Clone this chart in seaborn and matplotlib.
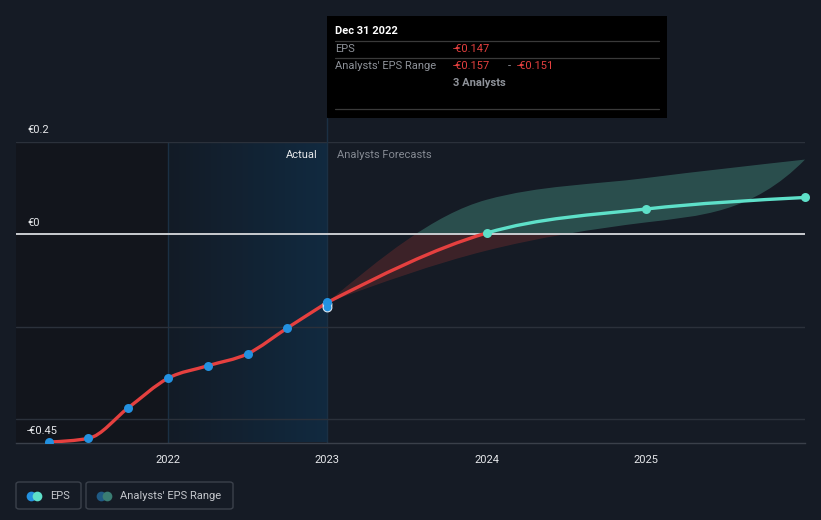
import numpy as np
import pandas as pd
import matplotlib
matplotlib.use("Agg")
import matplotlib.pyplot as plt
import seaborn as sns
from matplotlib.path import Path
from matplotlib.patches import PathPatch, Rectangle, FancyBboxPatch
from matplotlib.colors import LinearSegmentedColormap
from matplotlib.lines import Line2D

# ---------------- data ----------------
actual_x = [2021.25, 2021.5, 2021.75, 2022.0, 2022.25, 2022.5, 2022.75, 2023.0]
actual_eps = [-0.449, -0.441, -0.375, -0.311, -0.284, -0.258, -0.202, -0.147]

fc_x = [2023.0, 2024.0, 2025.0, 2026.0]
fc_eps = [-0.147, 0.003, 0.055, 0.080]
fc_high = [-0.147, 0.075, 0.122, 0.162]
fc_low = [-0.147, -0.035, 0.026, 0.050]

range_x = [2023.0, 2023.0]
range_vals = [-0.151, -0.157]

year_ticks = [2022, 2023, 2024, 2025]
year_labels = ["2022", "2023", "2024", "2025"]
y_ticks = [0.2, 0.0, -0.45]
y_labels = ["€0.2", "€0", "-€0.45"]
grid_vals = [0.2, -0.2, -0.4]

# ---------------- style ----------------
BG = "#151b25"
DARK = "#12151c"
RED = "#e5403f"
BLUE = "#2391e0"
TEAL = "#5ee0c9"
BAND_T = "#2c5150"
BAND_R = "#3f2329"

sns.set_style("dark")
plt.rcParams["font.family"] = ["Roboto", "DejaVu Sans"]

W, H = 821, 520
fig = plt.figure(figsize=(W / 100, H / 100), dpi=100, facecolor=BG)
x0, x1 = 16, 805
ytop, ybot = 142, 442.5
ax = fig.add_axes([x0 / W, 1 - ybot / H, (x1 - x0) / W, (ybot - ytop) / H])
ax.set_facecolor(BG)
XMIN, XMAX = 2021.045, 2026.0
YMIN, YMAX = -0.45, 0.2


def tangents(x, y):
    """Monotone-X tangents (as in d3.curveMonotoneX)."""
    x = np.asarray(x, float); y = np.asarray(y, float)
    n = len(x)
    m = np.zeros(n)
    for i in range(1, n - 1):
        h0 = x[i] - x[i - 1]; h1 = x[i + 1] - x[i]
        s0 = (y[i] - y[i - 1]) / h0; s1 = (y[i + 1] - y[i]) / h1
        p = (s0 * h1 + s1 * h0) / (h0 + h1)
        m[i] = (np.sign(s0) + np.sign(s1)) * min(abs(s0), abs(s1), 0.5 * abs(p))
    if n > 2:
        m[0] = (3 * (y[1] - y[0]) / (x[1] - x[0]) - m[1]) / 2
        m[-1] = (3 * (y[-1] - y[-2]) / (x[-1] - x[-2]) - m[-2]) / 2
    else:
        m[:] = (y[1] - y[0]) / (x[1] - x[0])
    return m


def bez_segments(x, y, m, i0, i1):
    verts = [(x[i0], y[i0])]
    codes = [Path.MOVETO]
    for i in range(i0, i1):
        h = x[i + 1] - x[i]
        verts += [(x[i] + h / 3, y[i] + m[i] * h / 3),
                  (x[i + 1] - h / 3, y[i + 1] - m[i + 1] * h / 3),
                  (x[i + 1], y[i + 1])]
        codes += [Path.CURVE4] * 3
    return verts, codes


# background regions
ax.axvspan(XMIN, 2022, color=DARK, zorder=0, lw=0)
grad = np.linspace(0, 1, 512).reshape(1, -1)
cmap = LinearSegmentedColormap.from_list("hl", ["#131b26", "#112a40"], N=512)
ax.imshow(grad, extent=[2022, 2023, YMIN, YMAX], aspect="auto", cmap=cmap,
          zorder=0.5, interpolation="nearest")
for xv in (2022, 2023):
    ax.axvline(xv, color="#1b3044", lw=1, zorder=1)

# grid
for g in grid_vals:
    ax.axhline(g, color="#2b313b", lw=1, zorder=1)
ax.axhline(0, color="#c9ccd0", lw=1.4, zorder=3)

# band
mh = tangents(fc_x, fc_high)
ml = tangents(fc_x, fc_low)
vu, cu = bez_segments(fc_x, fc_high, mh, 0, len(fc_x) - 1)
xr = fc_x[::-1]; lr = fc_low[::-1]
vl, cl = bez_segments(xr, lr, ml[::-1], 0, len(xr) - 1)
verts = vu + vl[1:] + [vu[0]]
codes = cu + cl[1:] + [Path.CLOSEPOLY]
band_path = Path(verts, codes)
for col, (ry0, ry1) in ((BAND_T, (0, YMAX + 1)), (BAND_R, (YMIN - 1, 0))):
    p = PathPatch(band_path, facecolor=col, edgecolor="none", zorder=2, alpha=0.95)
    ax.add_patch(p)
    clip = Rectangle((XMIN - 1, ry0), XMAX - XMIN + 2, ry1 - ry0,
                     transform=ax.transData, facecolor="none", edgecolor="none")
    ax.add_patch(clip)
    p.set_clip_path(clip)

# actual line
ma = tangents(actual_x, actual_eps)
va, ca = bez_segments(actual_x, actual_eps, ma, 0, len(actual_x) - 1)
ax.add_patch(PathPatch(Path(va, ca), facecolor="none", edgecolor=RED, lw=2.4,
                       zorder=4, capstyle="round"))

# forecast line
mf = tangents(fc_x, fc_eps)
vr, cr = bez_segments(fc_x, fc_eps, mf, 0, 1)
ax.add_patch(PathPatch(Path(vr, cr), facecolor="none", edgecolor=RED, lw=2.4, zorder=4))
vt, ct = bez_segments(fc_x, fc_eps, mf, 1, len(fc_x) - 1)
ax.add_patch(PathPatch(Path(vt, ct), facecolor="none", edgecolor=TEAL, lw=2.4, zorder=4))

# markers
df_a = pd.DataFrame({"x": actual_x, "y": actual_eps})
df_r = pd.DataFrame({"x": range_x, "y": range_vals})
df_f = pd.DataFrame({"x": fc_x[1:], "y": fc_eps[1:]})
sns.scatterplot(data=df_r, x="x", y="y", ax=ax, color=BLUE, s=40, edgecolor="#d8e6f2",
                linewidth=0.8, zorder=5, legend=False)
sns.scatterplot(data=df_a, x="x", y="y", ax=ax, color=BLUE, s=42, edgecolor=BLUE,
                linewidth=0, zorder=6, legend=False)
sns.scatterplot(data=df_f, x="x", y="y", ax=ax, color=TEAL, s=42, edgecolor=TEAL,
                linewidth=0, zorder=6, legend=False, clip_on=False)

ax.set_xlim(XMIN, XMAX)
ax.set_ylim(YMIN, YMAX)
ax.set_xlabel(""); ax.set_ylabel("")
ax.set_xticks(year_ticks)
ax.set_xticklabels(year_labels, color="#e6e8eb", fontsize=8)
ax.tick_params(axis="x", length=4, color="#3a404a", pad=5)
ax.set_yticks([])
for s in ("top", "right", "left"):
    ax.spines[s].set_visible(False)
ax.spines["bottom"].set_color("#3a404a")
ax.spines["bottom"].set_linewidth(1)
ax.grid(False)

# y labels above gridlines
for v, lab in zip(y_ticks, y_labels):
    ax.annotate(lab, xy=(0, v), xycoords=("axes fraction", "data"),
                xytext=(8, 5), textcoords="offset points", color="#e6e8eb",
                fontsize=8, va="bottom", ha="left")

# Actual / Forecast labels
ax.annotate("Actual", xy=(2023, YMAX), xytext=(-7, -5.5), textcoords="offset points",
            ha="right", va="top", color="#e6e8eb", fontsize=8)
ax.annotate("Analysts Forecasts", xy=(2023, YMAX), xytext=(7, -5.5), textcoords="offset points",
            ha="left", va="top", color="#858a93", fontsize=8)

# vertical line at 2023 up to tooltip
fx = (x0 + (2023 - XMIN) / (XMAX - XMIN) * (x1 - x0)) / W
fig.add_artist(Line2D([fx, fx], [1 - 142 / H, 1 - 118 / H], color="#1b3044", lw=1))

# tooltip
def fy(py):
    return 1 - py / H

fig.add_artist(Rectangle((327 / W, fy(118)), 340 / W, 102 / H, facecolor="black",
                         edgecolor="none", transform=fig.transFigure))
fig.text(335 / W, fy(31), "Dec 31 2022", color="white", fontsize=8, fontweight="bold", va="center")
for py in (41, 58, 109):
    fig.add_artist(Line2D([335 / W, 659 / W], [fy(py), fy(py)], color="#3a3a3a", lw=0.9))
fig.text(335 / W, fy(49), "EPS", color="#8e9299", fontsize=8, va="center")
fig.text(453 / W, fy(49), "-€0.147", color=RED, fontsize=8, va="center")
fig.text(335 / W, fy(66), "Analysts' EPS Range", color="#8e9299", fontsize=8, va="center")
fig.text(453 / W, fy(66), "-€0.157", color=RED, fontsize=8, va="center")
fig.text(508 / W, fy(66), "-", color="#8e9299", fontsize=8, va="center")
fig.text(517 / W, fy(66), "-€0.151", color=RED, fontsize=8, va="center")
fig.text(453 / W, fy(83), "3 Analysts", color="#8e9299", fontsize=8, fontweight="bold", va="center")

# legend boxes
def legbox(xl, xr, c1, c2, label):
    fig.add_artist(FancyBboxPatch((xl / W, fy(509)), (xr - xl) / W, 27 / H,
                                  boxstyle="round,pad=0,rounding_size=0.004",
                                  facecolor="none", edgecolor="#3b414b", lw=1,
                                  transform=fig.transFigure))
    fig.add_artist(Line2D([(xl + 15) / W], [fy(496)], marker="o", ms=7, color=c1, mec="none", lw=0))
    fig.add_artist(Line2D([(xl + 21) / W], [fy(496)], marker="o", ms=7, color=c2, mec="none", lw=0))
    fig.text((xl + 34) / W, fy(496), label, color="#c4c7cc", fontsize=8, va="center")

legbox(16, 81, BLUE, TEAL, "EPS")
legbox(86, 233, "#1f5a84", "#3a7d73", "Analysts' EPS Range")

fig.savefig("out.png", dpi=100, facecolor=BG)
